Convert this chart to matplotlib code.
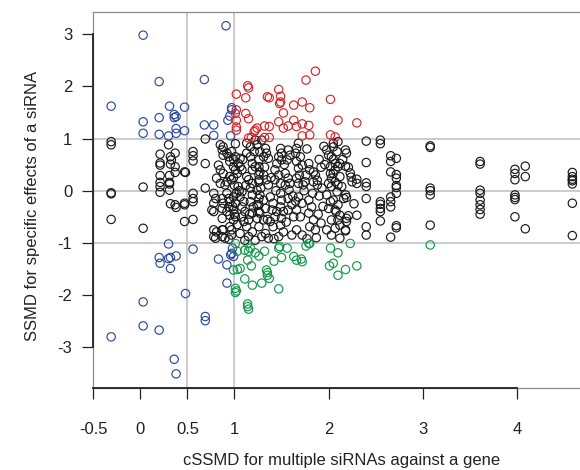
import matplotlib
matplotlib.use('Agg')
import matplotlib.pyplot as plt

plt.rcParams['font.family'] = ['Liberation Sans', 'DejaVu Sans']

# siRNAs with cSSMD < 1 and |SSMD| > 1
blue_x = [0.03, 0.91, 0.20, 0.68, -0.31, 0.31, 0.47, 0.20, 0.36, 0.38,
          0.36, 0.03, 0.03, 0.20, 0.30, 0.38, 0.38, 0.47, 0.68, 0.78,
          0.78, 0.97, 0.95, 0.93, 0.96, 0.97,
          0.30, 0.56, 0.20, 0.21, 0.30, 0.32, 0.38, 0.32, 0.83, 0.92,
          0.96, 0.97, 0.99, 0.98, 0.92, 0.48, 0.03, 0.69, 0.69, 0.03,
          0.20, -0.31, 0.36, 0.38]
blue_y = [2.98, 3.16, 2.09, 2.13, 1.62, 1.62, 1.60, 1.40, 1.46, 1.42,
          1.40, 1.32, 1.10, 1.08, 1.05, 1.19, 1.10, 1.15, 1.26, 1.26,
          1.06, 1.59, 1.43, 1.35, 1.05, 1.55,
          -1.02, -1.12, -1.28, -1.39, -1.30, -1.28, -1.25, -1.49, -1.31, -1.42,
          -1.23, -1.20, -1.26, -1.10, -1.77, -1.97, -2.13, -2.41, -2.49, -2.59,
          -2.67, -2.80, -3.23, -3.51]

# cSSMD >= 1 and SSMD > 1
red_x = [1.86, 1.76, 1.14, 1.15, 1.47, 1.02, 1.12, 1.35, 1.37, 1.49,
         1.48, 1.49, 1.63, 1.72, 1.80, 2.02, 1.02, 1.01, 1.12, 1.15,
         1.52, 1.02, 2.10, 2.30, 1.47, 1.63, 1.72, 1.79, 1.66, 1.57,
         1.52, 1.37, 1.32, 1.24, 1.22, 1.21, 1.02, 1.02, 1.18, 1.15,
         1.32, 1.37, 1.72, 1.80, 2.02, 2.07]
red_y = [2.29, 2.12, 2.01, 1.97, 1.94, 1.85, 1.78, 1.80, 1.78, 1.81,
         1.67, 1.70, 1.64, 1.70, 1.59, 1.75, 1.55, 1.48, 1.48, 1.38,
         1.49, 1.35, 1.35, 1.30, 1.32, 1.35, 1.28, 1.25, 1.23, 1.24,
         1.20, 1.23, 1.24, 1.20, 1.16, 1.13, 1.22, 1.16, 1.02, 1.01,
         1.02, 1.02, 1.05, 1.07, 1.07, 1.03]

# cSSMD >= 1 and SSMD < -1
green_x = [1.01, 1.03, 1.11, 1.14, 1.15, 1.17, 1.22, 1.26, 1.32, 1.14,
           1.18, 0.99, 1.03, 1.06, 1.11, 1.19, 1.01, 1.02, 1.01, 1.14,
           1.14, 1.15, 1.29, 1.34, 1.35, 1.35, 1.37, 1.47, 1.42, 1.47,
           1.48, 1.50, 1.56, 1.63, 1.66, 1.71, 1.72, 1.76, 1.79, 1.80,
           2.02, 2.10, 2.01, 2.05, 2.10, 2.18, 2.23, 2.30, 3.08]
green_y = [-1.01, -1.16, -1.14, -1.01, -1.16, -1.10, -1.19, -1.25, -1.16, -1.33,
           -1.44, -1.52, -1.51, -1.49, -1.69, -1.81, -1.87, -1.92, -1.95, -2.17,
           -2.22, -2.27, -1.77, -1.52, -1.57, -1.62, -1.68, -1.88, -1.35, -1.10,
           -1.07, -1.28, -1.10, -1.26, -1.33, -1.31, -1.36, -1.06, -1.01, -1.01,
           -1.10, -1.19, -1.44, -1.39, -1.62, -1.51, -1.01, -1.44, -1.04]

# black: siRNAs with |SSMD| < 1, cSSMD < 0.95
left_x = [-0.31, -0.31, -0.31, -0.31, -0.31, 0.03, 0.03, 0.30, 0.21, 0.21,
          0.21, 0.32, 0.33, 0.32, 0.37, 0.21, 0.21, 0.21, 0.21, 0.31,
          0.31, 0.31, 0.31, 0.37, 0.37, 0.48, 0.56, 0.56, 0.56, 0.69,
          0.69, 0.69, 0.56, 0.56, 0.56, 0.47, 0.47, 0.47, 0.32, 0.37,
          0.38, 0.56, 0.47, 0.78, 0.78, 0.78, 0.78, 0.87, 0.87, 0.94,
          0.87]
left_y = [0.94, 0.88, -0.04, -0.06, -0.55, 0.07, -0.72, 0.88, 0.70, 0.53,
          0.49, 0.65, 0.59, 0.51, 0.72, 0.29, 0.16, 0.08, -0.03, 0.29,
          0.16, 0.13, 0.01, 0.46, 0.35, 0.35, 0.75, 0.67, 0.57, 0.99,
          0.52, 0.05, -0.05, -0.15, -0.21, 0.36, -0.24, -0.27, -0.25, -0.27,
          -0.32, -0.55, -0.59, -0.24, -0.40, -0.75, -0.88, -0.75, -0.88, -0.93,
          -0.53]

# black, cSSMD 0.75 - 1.3
mid_x = [0.85, 0.88, 0.87, 0.92, 0.88, 0.94, 0.95, 0.83, 0.85, 0.88,
         0.81, 0.85, 0.92, 0.90, 0.95, 0.97, 0.99, 1.01, 1.03, 1.04,
         1.06, 1.08, 1.01, 1.06, 1.13, 1.17, 1.13, 1.17, 1.22, 1.24,
         1.19, 1.22, 1.19, 1.13, 1.15, 1.19, 1.26, 1.26, 0.78, 0.80,
         0.76, 0.87, 0.88, 0.87, 0.92, 0.94, 0.95, 0.94, 0.92, 0.95,
         0.99, 1.01, 0.99, 1.01, 0.99, 0.81, 0.80, 0.88, 0.90, 0.95,
         0.97, 1.04, 1.08, 1.06, 1.10, 1.08, 1.11, 1.08, 1.10, 1.17,
         1.19, 1.17, 1.20, 1.19, 1.15, 1.24, 1.26, 1.24, 1.26, 1.24,
         1.13, 1.19, 1.15, 1.06]
mid_y = [0.88, 0.84, 0.78, 0.72, 0.68, 0.65, 0.56, 0.49, 0.40, 0.33,
         0.24, 0.14, 0.17, 0.11, 0.27, 0.21, 0.46, 0.40, 0.33, 0.52,
         0.46, 0.40, 0.65, 0.62, 0.72, 0.65, 0.91, 0.84, 0.97, 0.88,
         0.52, 0.46, 0.40, 0.27, 0.21, 0.14, 0.30, 0.21, -0.05, -0.15,
         -0.37, -0.15, -0.24, -0.34, -0.05, -0.15, -0.21, -0.31, -0.40, -0.47,
         -0.12, -0.24, -0.37, -0.50, -0.56, -0.79, -0.91, -0.75, -0.91, -0.69,
         -0.75, 0.08, -0.02, -0.12, -0.21, -0.31, -0.40, -0.50, -0.59, 0.05,
         -0.08, -0.21, -0.31, -0.43, -0.56, 0.01, -0.15, -0.27, -0.40, -0.53,
         -0.69, -0.79, -0.88, -0.82]

# black, cSSMD 1.25 - 2.05
c2_x = [1.29, 1.33, 1.27, 1.34, 1.31, 1.36, 1.26, 1.49, 1.50, 1.47,
        1.50, 1.45, 1.57, 1.59, 1.56, 1.68, 1.66, 1.65, 1.70, 1.66,
        1.72, 1.68, 1.79, 1.80, 1.84, 1.86, 1.26, 1.27, 1.31, 1.34,
        1.26, 1.36, 1.43, 1.47, 1.43, 1.49, 1.54, 1.57, 1.59, 1.54,
        1.66, 1.68, 1.73, 1.75, 1.84, 1.88, 1.98, 2.00, 2.02, 2.02,
        2.03, 2.00, 1.27, 1.31, 1.26, 1.33, 1.27, 1.31, 1.26, 1.33,
        1.38, 1.41, 1.40, 1.43, 1.38, 1.41, 1.49, 1.50, 1.49, 1.52,
        1.50, 1.49, 1.52, 1.47, 1.57, 1.61, 1.57, 1.63, 1.68, 1.72,
        1.66, 1.70, 1.66, 1.72, 1.79, 1.82, 1.79, 1.84, 1.80, 1.86,
        1.98, 2.02, 2.00, 2.03, 1.98, 2.03, 1.29, 1.36, 1.90, 1.92,
        1.88, 1.93, 1.90, 1.94, 1.89, 1.92, 1.87, 1.95]
c2_y = [0.97, 0.81, 0.75, 0.72, 0.65, 0.62, 0.59, 0.81, 0.72, 0.65,
        0.59, 0.52, 0.78, 0.68, 0.59, 0.91, 0.81, 0.72, 0.65, 0.56,
        0.49, 0.43, 0.52, 0.40, 0.36, 0.30, 0.46, 0.36, 0.30, 0.21,
        0.17, 0.11, 0.40, 0.30, 0.21, 0.14, 0.33, 0.24, 0.14, 0.11,
        0.24, 0.14, 0.11, 0.17, 0.17, 0.11, 0.78, 0.68, 0.46, 0.33,
        0.24, 0.14, -0.08, -0.18, -0.27, -0.34, -0.43, -0.56, -0.69, -0.82,
        -0.12, -0.24, -0.37, -0.50, -0.59, -0.69, -0.05, -0.18, -0.31, -0.40,
        -0.53, -0.66, -0.79, -0.88, -0.15, -0.27, -0.37, -0.50, -0.12, -0.24,
        -0.37, -0.50, -0.75, -0.85, -0.18, -0.31, -0.43, -0.56, -0.69, -0.75,
        -0.08, -0.21, -0.34, -0.56, -0.75, -0.85, -0.88, -0.91, 0.60, 0.45,
        0.20, 0.05, -0.10, -0.30, -0.45, -0.62, -0.90, 0.85]

# black, cSSMD 2.0 - 2.3
c3_x = [2.18, 2.19, 2.23, 2.24, 2.25, 2.30, 2.30, 2.21, 2.19, 2.30,
        2.18, 2.10, 2.12, 2.12, 2.05, 2.09, 2.03, 2.07, 2.10, 2.05,
        2.12, 2.07, 2.03, 2.09, 2.05, 2.10, 2.07, 2.12, 2.05, 2.10,
        2.05, 2.12, 2.18, 2.21, 2.07, 2.10, 2.14, 2.18, 2.19, 2.16,
        2.19, 2.07, 2.18]
c3_y = [0.78, 0.72, 0.34, 0.26, 0.17, 0.22, 0.14, -0.48, -0.53, -0.47,
        -0.75, -0.56, -0.66, -0.91, 0.84, 0.75, 0.65, 0.52, 0.46, 0.33,
        0.27, 0.17, 0.08, -0.02, -0.18, -0.27, -0.37, -0.47, 0.91, 0.94,
        0.60, 0.52, 0.47, 0.45, 0.40, 0.11, 0.08, -0.08, -0.13, -0.15,
        -0.59, -0.72, -0.77]

# black, more of the dense middle band
c4_x = [0.97, 0.99, 1.00, 1.02, 0.98, 1.00, 1.03, 0.97, 1.01, 0.99,
        1.05, 1.09, 1.12, 1.16, 1.21, 1.28, 1.32, 1.39, 1.44, 1.53,
        1.58, 1.62, 1.69, 1.74, 1.77, 1.83, 1.96, 2.08, 2.15, 2.27,
        1.35, 1.45, 1.55, 1.65, 1.76, 1.11, 1.22, 1.42, 1.61, 1.77]
c4_y = [0.75, 0.60, 0.10, -0.05, -0.30, -0.45, -0.65, -0.85, 0.90, 0.25,
        0.00, 0.60, 0.10, -0.45, 0.75, 0.05, 0.45, 0.25, 0.00, 0.50,
        0.02, -0.10, 0.30, 0.00, 0.80, -0.05, 0.50, -0.40, 0.60, -0.25,
        -0.55, -0.40, -0.60, -0.20, 0.30, -0.95, -0.95, -0.92, -0.85, -0.92]

# black, genes with high cSSMD (one column per gene)
gene_cssmd = [2.40, 2.55, 2.66, 2.72, 3.08, 3.61, 3.98, 4.09, 4.59]
gene_ssmd = [
    [0.95, 0.54, 0.15, 0.08, -0.15, -0.69, -0.85],
    [0.97, 0.90, -0.21, -0.26, -0.34, -0.40, -0.58],
    [0.67, 0.56, 0.36, -0.12, -0.21, -0.31, -0.89],
    [0.62, 0.31, 0.24, 0.10, 0.06, -0.05, -0.67, -0.71],
    [0.86, 0.83, 0.05, 0.00, -0.08, -0.66],
    [0.56, 0.51, 0.01, -0.05, -0.18, -0.27, -0.36, -0.45],
    [0.41, 0.33, 0.21, -0.08, -0.13, -0.17, -0.50],
    [0.47, 0.27, -0.73],
    [0.35, 0.27, 0.22, 0.19, 0.13, -0.24, -0.86],
]

fig = plt.figure(figsize=(5.8, 4.7), dpi=100)
W, H = 580, 470
ax = fig.add_axes([92.7 / W, (H - 388.0) / H, (590.8 - 92.7) / W, (388.0 - 12.2) / H])
ax.set_xlim(-0.506, 4.786)
ax.set_ylim(-3.78, 3.42)

for v in [0.5, 1]:
    ax.axvline(v, color='#bdbdbd', lw=1.1, zorder=1)
for v in [-1, 0, 1]:
    ax.axhline(v, color='#bdbdbd', lw=1.1, zorder=1)

pt = dict(s=36, facecolors='none', linewidths=0.85, zorder=3)

black_x = left_x + mid_x + c2_x + c3_x + c4_x
black_y = left_y + mid_y + c2_y + c3_y + c4_y
for gx, ys in zip(gene_cssmd, gene_ssmd):
    black_x = black_x + [gx] * len(ys)
    black_y = black_y + ys

ax.scatter(black_x, black_y, edgecolors='#1a1a1a', **pt)
ax.scatter(blue_x, blue_y, edgecolors='#2e4a9e', **pt)
ax.scatter(red_x, red_y, edgecolors='#d3262c', **pt)
ax.scatter(green_x, green_y, edgecolors='#12994a', **pt)

for s in ax.spines.values():
    s.set_color('#8c8c8c')
    s.set_linewidth(0.9)

ax.set_xticks([-0.5, 0, 0.5, 1, 2, 3, 4])
ax.set_xticklabels(['-0.5', '0', '0.5', '1', '2', '3', '4'])
ax.set_yticks([-3, -2, -1, 0, 1, 2, 3])
ax.set_yticklabels(['-3', '-2', '-1', '0', '1', '2', '3'])
ax.tick_params(axis='x', length=7.8, width=0.9, color='#222222', labelsize=12,
               pad=16.5, labelcolor='#222222')
ax.tick_params(axis='y', length=7.8, width=0.9, color='#222222', labelsize=12,
               pad=7, labelcolor='#222222')

# R style axis lines: only from first to last tick
ax.plot([-0.5, 4], [-3.78, -3.78], color='#222222', lw=1.3, clip_on=False, zorder=5)
ax.plot([-0.506, -0.506], [-3, 3], color='#222222', lw=1.3, clip_on=False, zorder=5)

fig.text(342 / W, 2 / H, 'cSSMD for multiple siRNAs against a gene',
         ha='center', va='bottom', fontsize=12, color='#222222')
fig.text(33 / W, 1 - 206 / H, 'SSMD for specific effects of a siRNA',
         ha='center', va='center', rotation=90, fontsize=12, color='#222222')

plt.savefig('out.png', dpi=100)
